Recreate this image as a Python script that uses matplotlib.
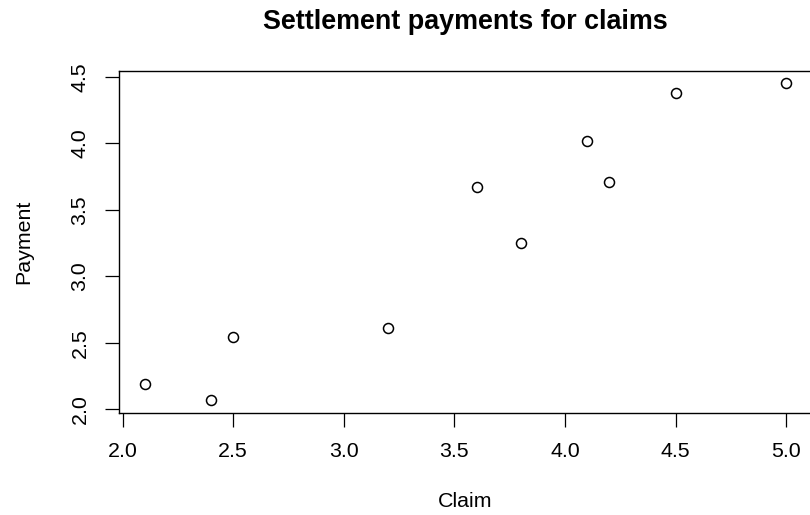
import matplotlib.pyplot as plt

# Claim vs settlement payment
claim = [2.1, 2.4, 2.5, 3.2, 3.6, 3.8, 4.1, 4.2, 4.5, 5.0]
payment = [2.19, 2.07, 2.54, 2.61, 3.67, 3.25, 4.02, 3.71, 4.38, 4.45]

xticks = [2.0, 2.5, 3.0, 3.5, 4.0, 4.5, 5.0]
yticks = [2.0, 2.5, 3.0, 3.5, 4.0, 4.5]

plt.rcParams['font.family'] = ['Liberation Sans', 'DejaVu Sans']

fig = plt.figure(figsize=(8.1, 5.15), dpi=100)
# R-style plot region; right edge runs just past the figure
ax = fig.add_axes([119 / 810, (515 - 412.7) / 515, 693 / 810, 342 / 515])

ax.plot(claim, payment, linestyle='none', marker='o', markersize=7.2,
        markerfacecolor='none', markeredgecolor='black', markeredgewidth=1.1)

# R pads the data range by 4% on each side
xr = max(claim) - min(claim)
yr = max(payment) - min(payment)
ax.set_xlim(min(claim) - 0.04 * xr, max(claim) + 0.04 * xr)
ax.set_ylim(min(payment) - 0.04 * yr, max(payment) + 0.04 * yr)

ax.set_xticks(xticks)
ax.set_xticklabels([f'{v:.1f}' for v in xticks])
ax.set_yticks(yticks)
ax.set_yticklabels([f'{v:.1f}' for v in yticks], rotation=90, va='center')

ax.tick_params(axis='both', direction='out', length=10.2, width=0.9,
               labelsize=15.4, pad=11)
for s in ax.spines.values():
    s.set_linewidth(1.0)

ax.set_title('Settlement payments for claims', fontsize=19.4,
             fontweight='bold', pad=30)
ax.set_xlabel('Claim', fontsize=15.4, labelpad=22)
ax.set_ylabel('Payment', fontsize=15.4, labelpad=27)

plt.savefig('out.png')
